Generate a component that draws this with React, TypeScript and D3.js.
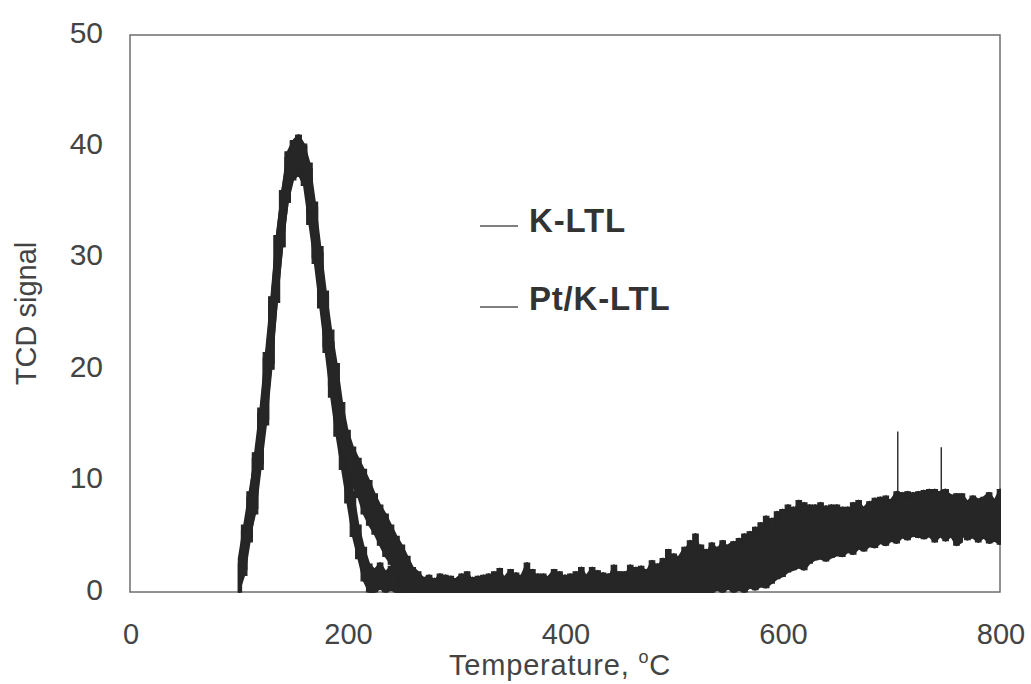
import React from "react";
import * as d3 from "d3";

// Sampling grid of the traces (°C)
const T_START = 100;
const T_STEP = 5;

// K-LTL trace envelope (lower / upper edge of the noisy signal), T = 100..800 step 5
const kLo = [
  0, 2, 5, 7, 11, 15, 20, 26, 31, 35, 37, 37.5, 36.5, 33, 29.5, 25.5, 21.5, 17.5, 14, 11,
  8, 5, 3, 1, 0, 0, 0.3, 0, 0.2, 0, 0, 0, 0, 0, 0, 0, 0, 0, 0, 0,
  0, 0, 0, 0, 0, 0, 0, 0, 0, 0, 0, 0, 0, 0, 0, 0, 0, 0, 0, 0,
  0, 0, 0, 0, 0, 0, 0, 0, 0, 0, 0, 0, 0, 0, 0, 0, 0, 0, 0, 0,
  0, 0, 0, 0, 0, 0, 0, 0, 0.3, 0.2, 0.6, 0.5, 1, 1.2, 1.5, 1.8, 2, 1.8, 2.5, 2.8,
  2.6, 3, 3.2, 3, 3.5, 3.2, 3.8, 3.5, 3.8, 4, 4.2, 4, 4.5, 4.3, 4.8, 4.5, 5, 4.8, 5.2, 5,
  5.5, 5.3, 5.8, 5.5, 5, 5.3, 4.8, 5, 4.5, 5, 4.6, 5, 4.2, 4.5,
];
const kHi = [
  3, 6, 9, 12, 16, 21, 26, 32, 36, 39, 40.5, 41, 40, 38, 34.5, 30.5, 26.5, 22.5, 19, 15,
  12, 9, 6, 4, 2.5, 2, 2.6, 1.8, 2.3, 1.5, 2, 1.2, 1.5, 1, 1.3, 0.8, 1.2, 1, 1.5, 0.9,
  1.2, 1.6, 1, 1.3, 0.9, 1.5, 1.1, 1.8, 1, 1.4, 2, 1.2, 1.5, 2.6, 1.2, 1.6, 1, 1.4, 2, 1.2,
  1.5, 1, 1.8, 1.2, 1.5, 2.2, 1.3, 1.7, 1.2, 2.4, 1.2, 1.8, 1.3, 2.2, 1.5, 2, 1.6, 2.5, 2, 3.8,
  2.5, 3.2, 4, 3, 5.2, 3.5, 3.8, 3.2, 4, 3.5, 4.2, 4.5, 4, 5.2, 4.6, 5.8, 5.2, 6.8, 6, 7.2,
  6.8, 7.8, 7, 8.2, 7.5, 7.8, 7, 8, 7.2, 7.8, 7, 7.6, 6.9, 8, 7.3, 7.6, 8.1, 7.3, 8.5, 7.8,
  8.3, 9, 8.5, 9, 8.2, 9, 8.5, 9.2, 8.8, 9, 9.2, 8.5, 8.8, 8, 8.5, 8.2, 8, 8.8, 9, 8.5, 9,
];

// Pt/K-LTL trace envelope, T = 100..800 step 5
const pLo = [
  0, 1.5, 4.5, 7.5, 11.5, 15.5, 20.5, 26, 31, 35, 37.5, 38, 37, 34, 30, 26, 22, 18.5, 15.5, 12.5,
  10.5, 9.5, 8.5, 7, 6, 5.2, 4.2, 3.2, 2.5, 1.8, 0.8, 0.3, 0, 0, 0, 0, 0, 0, 0, 0,
  0, 0, 0, 0, 0, 0, 0, 0, 0, 0, 0, 0, 0, 0, 0, 0, 0, 0, 0, 0,
  0, 0, 0, 0, 0, 0, 0, 0, 0, 0, 0, 0, 0, 0, 0, 0, 0, 0, 0, 0,
  0, 0, 0, 0.2, 0, 0.3, 0, 0, 0.2, 0, 0.3, 0, 0.2, 0, 0.4, 0.2, 0.5, 0.4, 0.8, 1.2,
  1.4, 1.8, 2, 2.2, 2, 2.6, 2.9, 3, 2.8, 3.1, 3.3, 3.2, 3.6, 3.4, 3.9, 3.7, 4.1, 4, 4.4, 4.2,
  4.6, 4.4, 4.9, 4.7, 5.1, 4.9, 5.4, 5.2, 5.6, 5.4, 5.2, 5.3, 4.9, 5.1, 4.7, 4.9, 4.5, 4.9, 4.4, 4.6, 4.3,
];
const pHi = [
  2.5, 5.5, 8.5, 12.5, 16.5, 21.5, 26.5, 32, 36, 39.5, 40.5, 41, 40.2, 38.5, 35, 31, 27, 23.5, 20.5, 17,
  14.5, 13, 12, 11, 10, 8.8, 7.8, 7, 6, 5, 4.2, 3.2, 2.2, 1.8, 1.2, 1.5, 1, 1.6, 1.1, 1.4,
  0.9, 1.3, 1.8, 1, 1.4, 1.1, 1.6, 1.2, 2.1, 1, 1.3, 1.7, 1.1, 1.5, 2, 1.1, 1.6, 1.2, 1.4, 1.8,
  1.1, 1.6, 1.2, 2.2, 1.3, 1.5, 1.9, 1.2, 1.6, 1.3, 1.8, 1.4, 2.4, 1.6, 2.3, 1.8, 2.8, 2.2, 3, 2.6,
  3.4, 2.8, 3.6, 4.6, 3.6, 4.2, 3.4, 4.4, 3.8, 4.6, 3.9, 4.2, 4.8, 4.4, 5.4, 5, 6.2, 5.6, 6.6, 6.4,
  7.4, 7, 7.6, 7.2, 8, 7.3, 7.8, 7.2, 7.7, 7.1, 7.8, 7.2, 7.6, 7.3, 8.2, 7.4, 7.9, 8.4, 7.6, 8.6,
  8, 8.7, 8.9, 8.3, 8.9, 8.4, 9.1, 8.6, 9.2, 8.8, 9, 8.7, 8.4, 8.8, 8.1, 8.6, 8.3, 8.5, 8.9, 8.2, 9.2,
];

// Isolated narrow spikes in the high-temperature region
const spikeT = [706, 746];
const spikeLo = [8.6, 8.8];
const spikeHi = [14.4, 13.0];

const xTicks = [0, 200, 400, 600, 800];
const yTicks = [0, 10, 20, 30, 40, 50];
const seriesNames = ["K-LTL", "Pt/K-LTL"];

const FONT = "'Liberation Sans', Arial, Helvetica, sans-serif";
const INK = "#262626";

export default function App() {
  const W = 1031;
  const H = 684;
  const x = d3.scaleLinear().domain([0, 800]).range([130, 1000]);
  const y = d3.scaleLinear().domain([0, 50]).range([592, 35]);

  const makeArea = (lo: number[], hi: number[], curve: d3.CurveFactory) =>
    d3
      .area<number>()
      .x((_, i) => x(T_START + i * T_STEP))
      .y0((_, i) => y(lo[i]))
      .y1((_, i) => y(hi[i]))
      .curve(curve)(lo.map((_, i) => i)) || "";

  const traces = [
    { lo: kLo, hi: kHi },
    { lo: pLo, hi: pHi },
  ];

  const legendLineY = [226, 307];
  const legendTextY = [232, 310];

  return (
    <svg
      width={W}
      height={H}
      style={{ position: "absolute", left: 0, top: 0, background: "#fff" }}
    >
      <rect x={0} y={0} width={W} height={H} fill="#fff" />
      {/* plot frame */}
      <rect
        x={x(0)}
        y={y(50)}
        width={x(800) - x(0)}
        height={y(0) - y(50)}
        fill="none"
        stroke="#6e6e6e"
        strokeWidth={1.5}
      />
      {/* traces: smooth body + blocky noise edges */}
      {traces.map((t, i) => (
        <g key={i}>
          <path
            d={makeArea(t.lo, t.hi, d3.curveLinear)}
            fill={INK}
            stroke={INK}
            strokeWidth={2}
            strokeLinejoin="round"
          />
          <path
            d={makeArea(t.lo, t.hi, d3.curveStep)}
            fill={INK}
            stroke={INK}
            strokeWidth={1.2}
          />
        </g>
      ))}
      {spikeT.map((t, i) => (
        <line
          key={i}
          x1={x(t)}
          x2={x(t)}
          y1={y(spikeLo[i])}
          y2={y(spikeHi[i])}
          stroke={INK}
          strokeWidth={1.4}
        />
      ))}
      {/* y tick labels */}
      {yTicks.map((v) => (
        <text
          key={v}
          x={103}
          y={y(v) - 3}
          textAnchor="end"
          dominantBaseline="central"
          fontFamily={FONT}
          fontSize={30}
          fill="#444"
        >
          {v}
        </text>
      ))}
      {/* x tick labels */}
      {xTicks.map((v) => (
        <text
          key={v}
          x={x(v) + 1}
          y={644}
          textAnchor="middle"
          fontFamily={FONT}
          fontSize={29}
          fill="#444"
        >
          {v}
        </text>
      ))}
      {/* axis titles */}
      <text
        x={560}
        y={675}
        textAnchor="middle"
        fontFamily={FONT}
        fontSize={29}
        letterSpacing={0.8}
        fill="#444"
      >
        Temperature,{" "}
        <tspan fontSize={18} dy={-12}>o</tspan>
        <tspan dy={12}>C</tspan>
      </text>
      <text
        transform={`translate(36, ${(y(0) + y(50)) / 2}) rotate(-90)`}
        textAnchor="middle"
        fontFamily={FONT}
        fontSize={29}
        fill="#444"
      >
        TCD signal
      </text>
      {/* legend */}
      {seriesNames.map((name, i) => (
        <g key={name}>
          <line
            x1={480}
            x2={518}
            y1={legendLineY[i]}
            y2={legendLineY[i]}
            stroke="#555"
            strokeWidth={1.5}
          />
          <text
            x={529}
            y={legendTextY[i]}
            fontFamily={FONT}
            fontSize={33}
            fontWeight="bold"
            letterSpacing={0.8}
            fill="#333"
          >
            {name}
          </text>
        </g>
      ))}
    </svg>
  );
}
